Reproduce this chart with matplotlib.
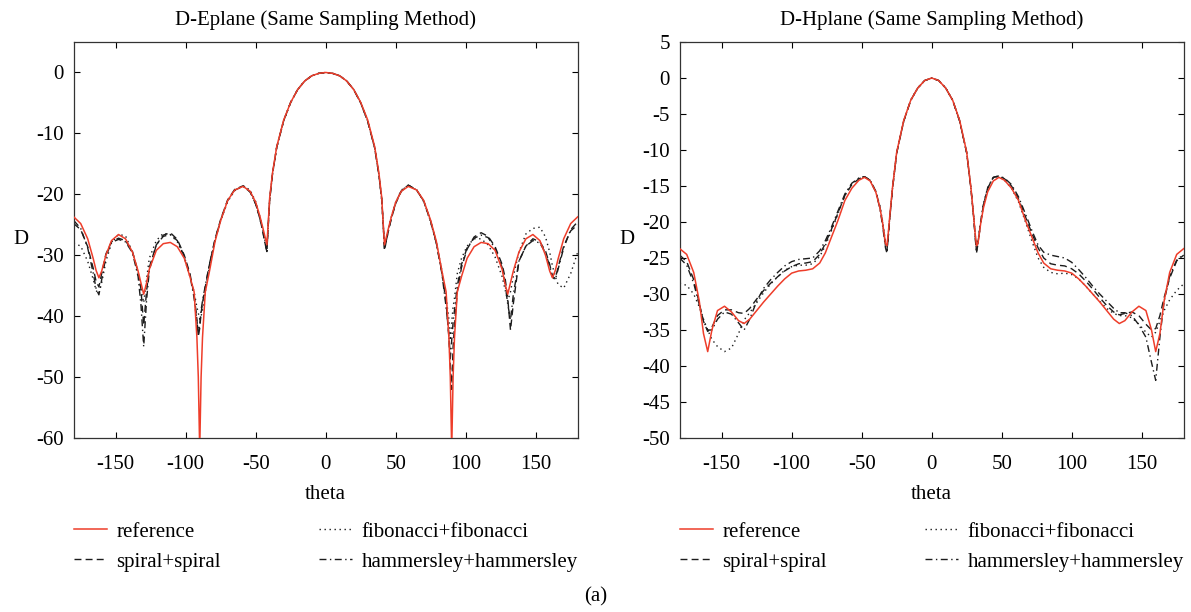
import matplotlib
matplotlib.use("Agg")
import matplotlib.pyplot as plt

plt.rcParams['font.family'] = ['Liberation Serif', 'DejaVu Serif']
plt.rcParams['axes.unicode_minus'] = False

# ---- E-plane data ----
theta_e = [-180, -175, -170, -166, -164, -162, -160, -157, -153, -148,
           -143, -138, -134, -132, -130, -128, -126, -121, -116, -111,
           -106, -101, -97, -94, -92, -91, -90, -89, -88, -86,
           -83, -79, -75, -70, -65, -59, -54, -50, -47, -45,
           -43, -42, -41, -40, -38, -35, -30, -25, -20, -15,
           -10, -5, 0,
           5, 10, 15, 20, 25, 30, 35, 38, 40, 41,
           42, 43, 45, 47, 50, 54, 59, 65, 70, 75,
           79, 83, 86, 88, 89, 90, 91, 92, 94, 97,
           101, 106, 111, 116, 121, 126, 128, 130, 132, 134,
           138, 143, 148, 153, 157, 160, 162, 164, 166, 170,
           175, 180]

ref_e = [-23.7, -24.8, -27.3, -30.6, -32.5, -33.7, -32.6, -30.0, -27.6, -26.6,
         -27.3, -29.5, -32.6, -34.5, -36.4, -34.6, -32.3, -29.2, -28.1, -27.9,
         -28.6, -30.5, -33.5, -36.0, -43.5, -50.0, -62.0, -50.0, -43.5, -36.0,
         -32.6, -27.7, -24.3, -21.0, -19.3, -18.7, -19.5, -21.3, -23.6, -25.4,
         -27.3, -28.3, -24.5, -20.5, -16.5, -12.2, -7.8, -4.9, -2.8, -1.4,
         -0.55, -0.15, 0.0,
         -0.15, -0.55, -1.4, -2.8, -4.9, -7.8, -12.2, -16.5, -20.5, -24.5,
         -28.3, -27.3, -25.4, -23.6, -21.3, -19.5, -18.7, -19.3, -21.0, -24.3,
         -27.7, -32.6, -36.0, -43.5, -50.0, -62.0, -50.0, -43.5, -36.0, -33.5,
         -30.5, -28.6, -27.9, -28.1, -29.2, -32.3, -34.6, -36.4, -34.5, -32.6,
         -29.5, -27.3, -26.6, -27.6, -30.0, -32.6, -33.7, -32.5, -30.6, -27.3,
         -24.8, -23.7]

fib_e = [-28.0, -28.5, -31.0, -34.0, -35.8, -36.3, -34.5, -31.0, -28.0, -26.6,
         -26.8, -29.5, -33.0, -35.5, -37.8, -34.0, -30.5, -27.6, -26.4, -26.6,
         -27.8, -30.4, -33.5, -36.0, -38.5, -39.5, -40.5, -40.0, -39.0, -36.0,
         -31.8, -27.5, -24.3, -21.2, -19.4, -18.6, -19.3, -21.2, -23.7, -25.6,
         -28.0, -29.0, -24.8, -20.8, -16.7, -12.3, -7.9, -4.9, -2.8, -1.4,
         -0.55, -0.15, 0.0,
         -0.15, -0.55, -1.4, -2.8, -5.0, -8.0, -12.4, -16.8, -20.9, -24.7,
         -28.7, -27.8, -25.5, -23.6, -21.3, -19.3, -18.5, -19.3, -21.2, -24.6,
         -28.0, -32.5, -37.0, -40.5, -44.0, -41.0, -38.5, -37.0, -33.0, -30.5,
         -28.5, -27.3, -27.3, -28.3, -30.3, -33.5, -35.5, -37.5, -36.0, -33.5,
         -29.5, -26.5, -25.6, -25.4, -27.0, -29.5, -31.8, -33.5, -34.8, -35.4,
         -33.0, -29.5]

spiral_e = [-24.8, -25.8, -28.6, -32.2, -34.3, -35.2, -33.0, -29.8, -27.8, -27.2,
            -27.6, -29.4, -32.8, -35.5, -41.5, -36.0, -32.0, -28.3, -26.7, -26.3,
            -27.4, -30.0, -33.0, -36.5, -40.5, -43.4, -42.0, -39.5, -37.8, -35.2,
            -31.5, -27.3, -24.1, -20.9, -19.2, -18.6, -19.6, -21.6, -24.0, -26.0,
            -28.4, -29.3, -25.0, -20.8, -16.6, -12.3, -7.9, -4.9, -2.8, -1.4,
            -0.55, -0.15, 0.0,
            -0.15, -0.55, -1.4, -2.8, -5.0, -8.0, -12.4, -16.8, -20.8, -24.5,
            -29.2, -28.0, -25.8, -23.9, -21.5, -19.5, -18.5, -19.3, -21.1, -24.4,
            -27.9, -32.8, -37.8, -43.5, -48.0, -52.0, -45.0, -41.5, -36.0, -32.0,
            -29.0, -27.0, -26.3, -26.9, -28.6, -31.5, -33.5, -37.0, -42.3, -38.0,
            -31.0, -28.5, -27.3, -27.8, -29.3, -31.5, -33.5, -33.8, -32.0, -28.5,
            -26.0, -25.0]

ham_e = [-24.3, -25.6, -28.8, -33.0, -35.5, -36.5, -34.0, -30.2, -27.9, -27.4,
         -27.8, -29.6, -33.5, -38.0, -45.0, -37.5, -32.5, -28.3, -26.9, -26.6,
         -27.6, -30.2, -33.3, -37.0, -41.0, -42.5, -41.5, -39.0, -37.5, -35.0,
         -31.4, -27.4, -24.2, -21.0, -19.3, -18.7, -19.6, -21.6, -24.0, -26.0,
         -28.5, -29.4, -25.0, -20.9, -16.7, -12.3, -7.9, -4.9, -2.8, -1.4,
         -0.55, -0.15, 0.0,
         -0.15, -0.55, -1.4, -2.8, -5.0, -8.0, -12.4, -16.8, -20.8, -24.6,
         -29.0, -27.9, -25.7, -23.8, -21.4, -19.4, -18.5, -19.3, -21.1, -24.5,
         -28.0, -33.0, -38.5, -43.0, -47.0, -44.0, -41.0, -39.0, -35.0, -31.5,
         -28.8, -27.2, -26.7, -27.1, -28.9, -32.0, -34.5, -38.0, -40.6, -36.5,
         -31.0, -28.5, -27.6, -28.0, -29.6, -31.8, -33.6, -34.0, -32.3, -28.8,
         -25.8, -24.5]

# ---- H-plane data ----
theta_h = [-180, -175, -170, -166, -163, -160, -157, -153, -148, -143,
           -138, -134, -130, -125, -120, -115, -110, -105, -100, -95,
           -90, -85, -80, -76, -72, -67, -62, -57, -52, -48,
           -44, -40, -37, -35, -33, -32, -31, -30, -28, -25,
           -20, -15, -10, -5, 0,
           5, 10, 15, 20, 25, 28, 30, 31, 32, 33,
           35, 37, 40, 44, 48, 52, 57, 62, 67, 72,
           76, 80, 85, 90, 95, 100, 105, 110, 115, 120,
           125, 130, 134, 138, 143, 148, 153, 157, 160, 163,
           166, 170, 175, 180]

ref_h = [-23.7, -24.5, -27.0, -31.0, -35.5, -38.0, -35.0, -32.3, -31.7, -32.5,
         -33.7, -34.1, -33.5, -32.3, -31.1, -30.0, -28.9, -27.9, -27.1, -26.8,
         -26.7, -26.5, -25.7, -24.3, -22.3, -19.8, -17.0, -15.3, -14.2, -13.8,
         -14.3, -15.8, -18.0, -20.2, -23.0, -23.3, -21.5, -19.3, -15.2, -10.3,
         -5.9, -3.1, -1.4, -0.35, 0.0,
         -0.35, -1.4, -3.1, -5.9, -10.3, -15.2, -19.3, -21.5, -23.3, -23.0,
         -20.2, -18.0, -15.8, -14.3, -13.8, -14.2, -15.3, -17.0, -19.8, -22.3,
         -24.3, -25.7, -26.5, -26.7, -26.8, -27.1, -27.9, -28.9, -30.0, -31.1,
         -32.3, -33.5, -34.1, -33.7, -32.5, -31.7, -32.3, -35.0, -38.0, -35.5,
         -31.0, -27.0, -24.5, -23.7]

fib_h = [-28.5, -28.8, -30.0, -31.8, -33.5, -35.0, -36.3, -37.3, -38.0, -37.5,
         -35.5, -33.6, -32.6, -31.2, -29.8, -28.6, -27.6, -26.7, -26.2, -26.0,
         -26.0, -25.8, -24.8, -23.3, -21.4, -18.9, -16.3, -14.7, -13.9, -13.7,
         -14.2, -15.7, -17.8, -20.0, -22.8, -23.6, -21.7, -19.4, -15.3, -10.3,
         -6.0, -3.1, -1.4, -0.35, 0.0,
         -0.35, -1.4, -3.1, -6.0, -10.4, -15.2, -19.2, -21.6, -23.7, -22.8,
         -19.9, -17.5, -15.2, -13.8, -13.7, -14.2, -15.3, -17.2, -20.0, -22.9,
         -25.0, -26.3, -27.0, -27.2, -27.1, -27.3, -27.9, -28.9, -30.0, -31.0,
         -32.0, -32.7, -33.0, -33.0, -33.3, -34.2, -35.3, -36.0, -35.3, -33.8,
         -32.3, -30.8, -29.5, -28.6]

spiral_h = [-24.6, -25.5, -28.0, -31.3, -33.8, -35.2, -34.6, -33.0, -32.2, -32.2,
            -32.6, -32.7, -32.0, -30.7, -29.5, -28.5, -27.6, -26.8, -26.2, -25.8,
            -25.7, -25.5, -24.5, -23.0, -21.2, -18.8, -16.3, -14.8, -14.0, -13.7,
            -14.2, -15.7, -17.9, -20.3, -23.3, -24.0, -22.0, -19.6, -15.4, -10.4,
            -6.0, -3.1, -1.4, -0.35, 0.0,
            -0.35, -1.4, -3.1, -6.0, -10.4, -15.3, -19.4, -21.8, -24.0, -23.0,
            -20.0, -17.6, -15.3, -13.8, -13.6, -14.0, -15.0, -16.8, -19.3, -21.8,
            -23.6, -25.0, -25.8, -26.0, -26.1, -26.5, -27.2, -28.2, -29.3, -30.5,
            -31.6, -32.5, -32.9, -32.7, -32.5, -33.0, -34.2, -35.0, -34.8, -33.0,
            -30.5, -27.8, -25.4, -24.6]

ham_h = [-25.0, -26.0, -28.5, -31.5, -33.8, -35.0, -35.0, -33.5, -32.5, -32.8,
         -34.0, -35.0, -33.5, -31.0, -29.2, -28.0, -27.0, -26.1, -25.5, -25.2,
         -25.1, -25.0, -24.0, -22.6, -20.9, -18.5, -16.1, -14.6, -13.9, -13.7,
         -14.2, -15.8, -18.1, -20.6, -23.6, -24.3, -22.1, -19.6, -15.4, -10.4,
         -6.0, -3.1, -1.4, -0.35, 0.0,
         -0.35, -1.4, -3.1, -6.0, -10.4, -15.3, -19.4, -22.0, -24.3, -23.1,
         -20.1, -17.6, -15.3, -13.8, -13.6, -13.9, -14.8, -16.5, -18.9, -21.4,
         -23.2, -24.2, -24.6, -24.8, -25.0, -25.6, -26.6, -27.7, -28.9, -30.0,
         -31.0, -32.0, -32.6, -32.6, -33.0, -34.3, -36.0, -39.5, -42.0, -36.0,
         -31.0, -27.5, -25.3, -24.5]

titles = ['D-Eplane (Same Sampling Method)', 'D-Hplane (Same Sampling Method)']
yticks_e = [-60, -50, -40, -30, -20, -10, 0]
yticks_h = [-50, -45, -40, -35, -30, -25, -20, -15, -10, -5, 0, 5]
xticks = [-150, -100, -50, 0, 50, 100, 150]

RED = '#ee3d2a'
BLK = '#1c1c1c'
FS = 15


def draw_panel(ax, theta, ref, fib, spiral, ham, title, ylim, yticks):
    l_ref, = ax.plot(theta, ref, color=RED, lw=1.1, label='reference', zorder=5)
    l_fib, = ax.plot(theta, fib, color=BLK, lw=1.0, linestyle=(0, (1, 2.6)),
                     label='fibonacci+fibonacci')
    l_sp, = ax.plot(theta, spiral, color=BLK, lw=1.0, linestyle=(0, (5, 3)),
                    label='spiral+spiral')
    l_ham, = ax.plot(theta, ham, color=BLK, lw=1.0, linestyle=(0, (5, 2.5, 1, 2.5)),
                     label='hammersley+hammersley')
    ax.set_xlim(-180, 180)
    ax.set_ylim(*ylim)
    ax.set_xticks(xticks)
    ax.set_yticks(yticks)
    ax.tick_params(direction='in', top=True, right=True, labelsize=FS,
                   length=4, width=0.8)
    ax.tick_params(axis='x', pad=12)
    ax.tick_params(axis='y', pad=7)
    for s in ax.spines.values():
        s.set_linewidth(0.9)
        s.set_color('#333333')
    ax.set_title(title, fontsize=FS, pad=12)
    ax.set_xlabel('theta', fontsize=FS, labelpad=8)
    ax.set_ylabel('D', fontsize=FS, rotation=0, labelpad=11, va='center')
    ax.legend([l_ref, l_sp, l_fib, l_ham],
              ['reference', 'spiral+spiral', 'fibonacci+fibonacci', 'hammersley+hammersley'],
              ncol=2, loc='upper left', bbox_to_anchor=(0, -0.222, 1, 0.01),
              mode='expand', frameon=False, borderaxespad=0, borderpad=0,
              handlelength=1.6, handletextpad=0.45, labelspacing=0.5, fontsize=FS)


fig = plt.figure(figsize=(11.91, 6.12), dpi=100)
ax1 = fig.add_axes([73.7 / 1191, 1 - 438 / 612, 504 / 1191, 396 / 612])
ax2 = fig.add_axes([679.7 / 1191, 1 - 438 / 612, 504 / 1191, 396 / 612])

draw_panel(ax1, theta_e, ref_e, fib_e, spiral_e, ham_e, titles[0], (-60, 5), yticks_e)
draw_panel(ax2, theta_h, ref_h, fib_h, spiral_h, ham_h, titles[1], (-50, 5), yticks_h)

fig.text(0.5, 1 - 597 / 612, '(a)', ha='center', va='center', fontsize=FS)

fig.savefig('out.png', dpi=100)
